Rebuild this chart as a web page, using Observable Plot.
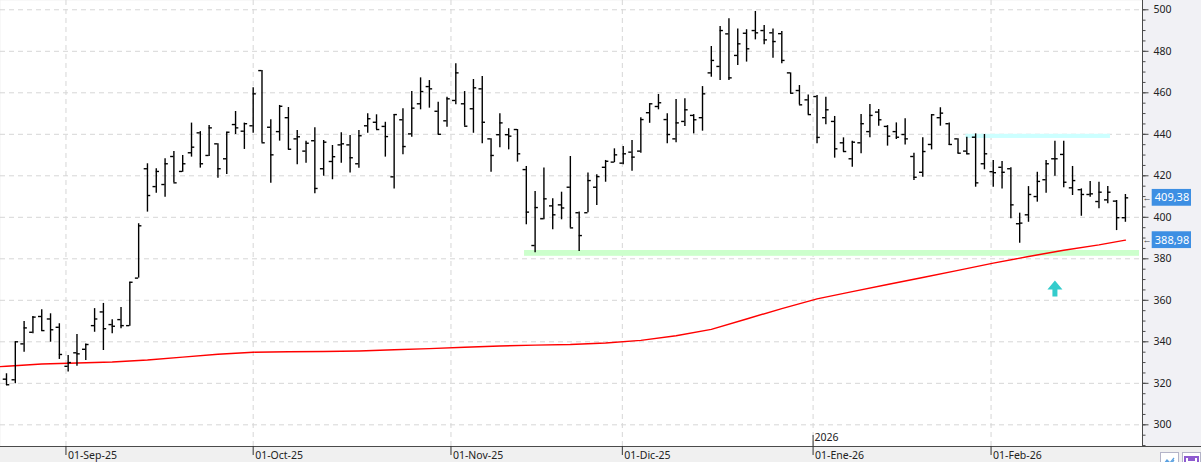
<!DOCTYPE html>
<html><head><meta charset="utf-8">
<script src="https://cdn.jsdelivr.net/npm/d3@7"></script>
<script src="https://cdn.jsdelivr.net/npm/@observablehq/plot@0.6"></script>
<style>
html,body{margin:0;padding:0;background:#fff;overflow:hidden}
#wrap{position:relative;width:1201px;height:462px;background:#f0f0f0;overflow:hidden}
#rpanel{position:absolute;left:1143px;top:0;width:58px;height:446px;background:#f1f1f5}
#chart{position:absolute;left:0;top:0}
.btn{position:absolute;top:452px;height:14px;box-sizing:border-box;border:1px solid #b4b4c8;background:#fff}
</style></head><body><div id="wrap"><div id="rpanel"></div><div id="chart"></div>
<div class="btn" style="left:1160px;width:19px"><svg width="17" height="12"><polyline points="3,9 6,5 9,8 13,3" fill="none" stroke="#5aa0e0" stroke-width="1.3"/><polyline points="3,11 6,7 9,10 13,5" fill="none" stroke="#5aa0e0" stroke-width="1.3"/></svg></div>
<div class="btn" style="left:1182px;width:19px"><svg width="17" height="12"><rect x="2" y="2" width="13" height="12" fill="none" stroke="#8e5bd0" stroke-width="2"/><rect x="5" y="3" width="7" height="3" fill="#8e5bd0"/></svg></div>
</div>
<script>
// ---- OHLC data (trading-day index 0..127) ----
const open = [322.0,321.7,339.0,344.6,352.2,351.0,347.0,328.2,334.7,336.4,
347.8,354.4,348.3,350.7,347.8,370.7,423.4,414.8,415.8,429.3,
422.1,431.1,440.7,429.8,435.4,428.2,444.7,441.5,444.1,470.7,
443.4,441.3,448.0,437.8,431.9,436.9,423.4,426.9,434.9,434.9,
425.8,444.1,445.8,443.8,419.5,447.0,440.2,454.7,463.0,451.1,
446.5,456.3,454.7,452.3,461.9,437.8,439.8,439.8,442.3,423.0,
386.4,399.3,405.5,406.0,414.5,402.2,402.2,414.5,424.1,426.6,
426.1,431.4,431.9,450.4,453.4,447.1,437.8,446.2,449.1,448.0,
469.6,472.7,488.4,478.0,488.7,490.0,490.0,488.9,488.5,469.6,
461.1,456.6,458.2,448.0,446.2,435.9,428.2,435.9,441.3,450.7,
443.8,441.3,439.9,429.3,421.7,435.1,448.0,445.1,437.8,431.9,
438.6,425.8,422.0,424.1,423.4,396.9,401.2,410.0,418.1,428.2,
430.3,414.2,413.3,411.0,407.6,408.4,407.8,399.8];
const high = [324.6,340.0,349.8,352.2,355.4,353.5,348.7,333.4,343.5,339.0,
356.0,358.5,350.6,356.5,368.7,396.9,425.8,423.4,428.2,431.7,
429.8,445.4,441.3,444.2,435.4,441.0,451.0,445.4,462.4,470.7,
447.0,453.9,452.9,441.8,436.7,443.1,437.0,434.6,440.7,439.4,
441.8,449.9,449.4,445.8,449.5,452.3,460.6,467.2,465.9,455.5,
457.9,474.0,460.6,466.4,467.9,437.8,449.9,442.7,442.3,424.5,
412.4,423.8,408.9,412.1,429.3,402.5,421.4,420.5,427.4,433.0,
434.1,437.0,448.0,454.7,459.2,449.9,456.8,457.1,449.5,463.0,
482.3,492.0,495.7,490.8,490.4,499.2,492.4,490.8,489.5,469.6,
463.5,459.0,458.7,457.9,448.6,438.3,436.7,449.5,454.4,452.0,
444.2,445.5,447.5,430.9,438.3,449.5,452.8,445.4,437.8,438.6,
440.2,439.9,427.4,426.9,423.9,402.0,414.8,421.7,427.4,436.7,
436.7,424.5,413.7,417.3,416.9,414.8,408.1,411.0];
const low = [318.9,319.8,335.0,343.9,345.1,339.8,331.5,325.4,328.2,331.0,
344.6,335.8,343.9,346.3,347.5,370.7,402.5,411.6,409.7,416.6,
421.7,429.0,423.7,429.3,418.8,420.6,439.9,432.7,440.5,435.9,
416.4,436.7,432.5,425.3,426.1,411.3,419.8,418.1,426.1,421.3,
423.7,440.5,442.3,429.0,413.7,430.1,438.6,451.8,452.6,439.8,
443.4,454.2,443.9,440.5,435.4,421.7,433.5,432.5,426.6,396.4,
382.9,398.8,394.0,398.8,394.9,383.5,402.2,405.7,416.9,426.3,
425.3,422.2,430.9,445.3,451.8,435.4,435.9,443.8,440.2,441.5,
467.5,465.9,465.9,473.2,474.8,485.5,483.1,476.7,474.0,459.5,
454.2,449.4,435.4,444.6,428.5,431.4,424.1,430.6,438.3,443.9,
434.3,437.5,434.9,417.7,419.3,432.5,443.9,434.6,430.6,430.1,
414.5,422.9,414.5,413.7,399.3,387.5,397.6,407.3,411.6,419.8,
414.2,410.5,400.5,409.7,404.1,406.5,393.6,397.6];
const close = [319.3,340.0,346.7,351.9,345.4,345.8,333.9,330.0,334.2,338.7,
351.0,346.3,347.5,347.8,368.7,395.9,410.5,422.1,425.8,416.6,
425.8,433.8,425.8,443.1,423.4,441.0,443.1,445.1,459.5,435.9,
430.1,453.5,432.8,438.8,435.7,413.9,436.2,429.2,435.4,428.7,
439.3,447.5,442.3,438.9,449.5,434.1,452.6,460.6,461.9,440.0,
457.1,469.6,443.9,462.4,445.8,429.8,445.5,439.1,430.6,402.5,
404.7,408.9,401.2,404.5,394.9,391.2,417.7,419.6,427.0,430.1,
430.6,429.0,447.1,454.7,455.2,439.9,445.5,451.8,447.0,459.5,
475.6,490.0,467.2,483.6,481.2,488.9,485.5,484.7,475.6,459.8,
454.2,449.5,438.5,451.8,433.0,431.7,436.2,445.1,449.1,447.0,
439.1,438.6,437.8,419.3,431.7,449.4,450.2,435.1,430.9,430.6,
416.6,430.6,421.5,421.7,406.0,397.2,411.0,417.3,425.8,428.2,
416.9,417.7,411.0,411.3,412.1,412.1,399.8,409.38];

// moving average (red line), sampled at trading-day indices
const maIdx = [-1,0,4,8,12,16,20,24,28,32,36,40,44,48,52,56,60,64,68,72,76,80,84,88,92,96,100,104,108,112,116,120,124,127];
const maVal = [328.0,328.2,329.3,329.8,330.3,331.2,332.6,334.0,335.0,335.2,335.3,335.6,336.2,336.7,337.4,338.0,338.4,338.7,339.4,340.7,342.9,346.0,351.0,356.0,360.7,364.2,367.6,371.0,374.4,377.9,381.1,384.1,386.7,388.98];

// month ticks (position in trading-day index) and labels
const monthPos = [6.75, 28.0, 50.45, 69.9, 91.55, 111.75];
const monthLabels = ["01-Sep-25","01-Oct-25","01-Nov-25","01-Dic-25","01-Ene-26","01-Feb-26"];
const yearPos = 91.55, yearLabel = "2026";

// price axis
const yMajor = [300,320,340,360,380,400,420,440,460,480,500];
const yMinor = d3.range(290, 505, 5);

// zones and markers
const supportZone = {start: 58.8, end: 128.6, low: 381.2, high: 384.0};
const resistZone = {start: 108.9, end: 125.3, low: 438.0, high: 440.0};
const arrowMark = {i: 119, v: 365.7};
const lastLabels = [{v: 409.38, t: "409,38"}, {v: 388.98, t: "388,98"}];

const bars = open.map((o, i) => ({i, open: o, high: high[i], low: low[i], close: close[i]}));
const ma = maIdx.map((d, j) => ({i: d, v: maVal[j]}));

const X0 = -0.68, X1 = 128.94, Y0 = 289.55, Y1 = 504.48;
const k = (X1 - X0) / 1142, vk = (Y1 - Y0) / 446;
const XR = X0 + 1201 * k;

const arrowSymbol = {draw(c) {
  c.moveTo(0, -8); c.lineTo(7.5, 1); c.lineTo(2.5, 1); c.lineTo(2.5, 8);
  c.lineTo(-2.5, 8); c.lineTo(-2.5, 1); c.lineTo(-7.5, 1); c.closePath();
}};

const grid = {stroke: "#d6d6d6", strokeDasharray: "5,4", strokeWidth: 1};
const font = "'Segoe UI','Noto Sans',sans-serif";

const chart = Plot.plot({
  width: 1201, height: 462,
  marginLeft: 0, marginRight: 59, marginTop: 0, marginBottom: 16,
  x: {type: "linear", domain: [X0, X1], axis: null},
  y: {type: "linear", domain: [Y0, Y1], axis: null},
  style: {background: "transparent", fontFamily: font, fontSize: "10px", color: "#222", overflow: "visible"},
  marks: [
    Plot.frame({fill: "white", stroke: null}),
    Plot.ruleY(yMajor, {...grid, x1: X0, x2: X1}),
    Plot.ruleX(monthPos, {...grid, y1: Y0, y2: Y1}),
    Plot.rect([supportZone], {x1: "start", x2: "end", y1: "low", y2: "high", fill: "#ccffcc", clip: true}),
    Plot.rect([resistZone], {x1: "start", x2: "end", y1: "low", y2: "high", fill: "#ccffff", clip: true}),
    Plot.line(ma, {x: "i", y: "v", stroke: "#ff0000", strokeWidth: 1.4, clip: true}),
    Plot.ruleX(bars, {x: "i", y1: "low", y2: "high", stroke: "#000", strokeWidth: 1.4}),
    Plot.ruleY(bars, {y: "open", x1: d => d.i - 0.37, x2: "i", stroke: "#000", strokeWidth: 1.4}),
    Plot.ruleY(bars, {y: "close", x1: "i", x2: d => d.i + 0.37, stroke: "#000", strokeWidth: 1.4}),
    Plot.dot([arrowMark], {x: "i", y: "v", symbol: arrowSymbol, fill: "#33cccc", stroke: null, r: 8}),
    // axes lines
    Plot.ruleX([X1], {y1: Y0, y2: Y1, stroke: "#4a4a4a"}),
    Plot.ruleY([Y0], {x1: X0, x2: XR, stroke: "#4a4a4a"}),
    // right axis ticks
    Plot.ruleY(yMinor.filter(v => v >= Y0 && v <= Y1), {x1: X1, x2: X1 + 3.5 * k, stroke: "#4a4a4a"}),
    Plot.ruleY(yMajor, {x1: X1, x2: X1 + 6.5 * k, stroke: "#4a4a4a"}),
    Plot.text(yMajor, {x: X1, y: d => d, dx: 11, textAnchor: "start", fill: "#222", fontSize: 10.5}),
    // last value labels
    Plot.rect(lastLabels, {x1: X1 + 9.7 * k, x2: X1 + 49 * k, y1: d => d.v - 8.4 * vk, y2: d => d.v + 8.4 * vk, fill: "#3d8fe3"}),
    Plot.text(lastLabels, {x: X1 + 29.5 * k, y: "v", text: "t", fill: "white", fontSize: 11, textAnchor: "middle"}),
    Plot.text(lastLabels, {x: X1 + 4.5 * k, y: "v", text: () => "\u2190", fill: "#444", fontSize: 9, textAnchor: "middle"}),
    // bottom axis
    Plot.ruleX(monthPos, {y1: Y0, y2: Y0 - 9 * vk, stroke: "#333"}),
    Plot.text(monthPos, {x: d => d, y: Y0 - 9.6 * vk, text: (d, j) => monthLabels[j], textAnchor: "start", dx: 2, fill: "#222", fontSize: 10.5}),
    Plot.ruleX([yearPos], {y1: Y0, y2: Y0 + 11 * vk, stroke: "#333"}),
    Plot.text([yearLabel], {x: yearPos, y: Y0 + 8.5 * vk, text: d => d, textAnchor: "start", dx: 1.5, fill: "#222", fontSize: 10.5})
  ]
});
document.getElementById("chart").appendChild(chart);
</script></body></html>
